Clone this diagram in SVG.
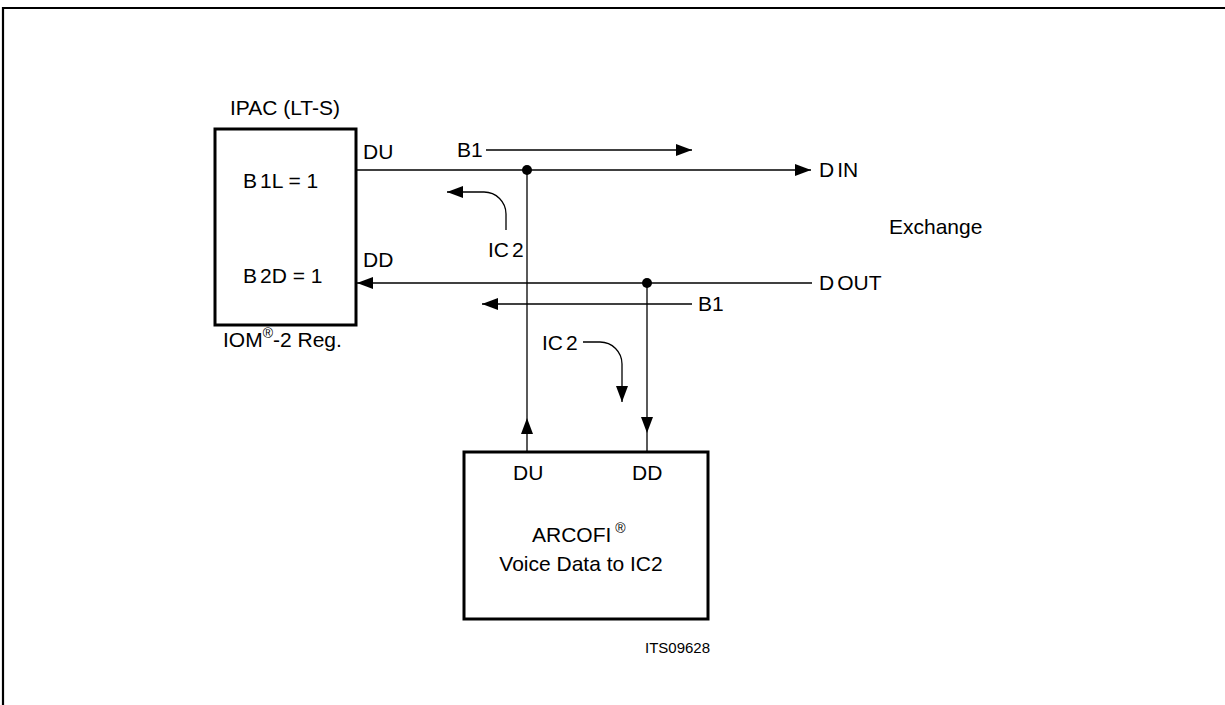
<svg xmlns="http://www.w3.org/2000/svg" width="1225" height="705" viewBox="0 0 1225 705">
<style>
text{font-family:"Liberation Sans",Arial,sans-serif;font-size:21px;fill:#000}
.box{fill:#fff;stroke:#000;stroke-width:3}
.ln{fill:none;stroke:#000;stroke-width:1.3}
.arr{marker-end:url(#ah)}
.sm{font-size:15px}
.sup{font-size:14px}
</style>
<defs>
<marker id="ah" markerUnits="userSpaceOnUse" markerWidth="16" markerHeight="12" refX="16" refY="6" orient="auto" viewBox="0 0 16 12">
<path d="M0,0 L16,6 L0,12 z" fill="#000"/>
</marker>
</defs>
<rect width="1225" height="705" fill="#fff"/>
<path d="M3,705 V8 H1225" fill="none" stroke="#000" stroke-width="2.2"/>

<g id="connectors">
<path class="ln arr" d="M356,170 H811"/>
<path class="ln arr" d="M812,283 H357"/>
<path class="ln arr" d="M486,150 H692"/>
<path class="ln arr" d="M692,304 H482"/>
<path class="ln" d="M527,170 V418"/>
<path class="ln arr" d="M527,452 V418"/>
<path class="ln arr" d="M647,283 V433"/>
<path class="ln" d="M647,433 V452"/>
<path class="ln arr" d="M506,230 V214 A22,22 0 0 0 484,192 H447"/>
<path class="ln arr" d="M583,342 H600 A22,22 0 0 1 622,364 V402"/>
<circle cx="527" cy="170" r="5"/>
<circle cx="647" cy="283" r="5"/>
<text x="457" y="157">B1</text>
<text x="698" y="311">B1</text>
<text x="488" y="257">IC<tspan dx="3">2</tspan></text>
<text x="542" y="350">IC<tspan dx="3">2</tspan></text>
<text x="819" y="177">D<tspan dx="3">IN</tspan></text>
<text x="819" y="290">D<tspan dx="3">OUT</tspan></text>
</g>

<g id="ipac">
<rect class="box" x="215" y="129" width="141" height="196"/>
<text x="285" y="115" text-anchor="middle">IPAC (LT-S)</text>
<text x="243" y="188">B<tspan dx="3">1L = 1</tspan></text>
<text x="243" y="283">B<tspan dx="3">2D = 1</tspan></text>
<text x="363" y="159">DU</text>
<text x="363" y="267">DD</text>
<text x="223" y="347">IOM<tspan class="sup" dy="-9">®</tspan><tspan dy="9">-2 Reg.</tspan></text>
</g>

<g id="exchange">
<text x="889" y="234">Exchange</text>
</g>

<g id="arcofi">
<rect class="box" x="464" y="452" width="244" height="167"/>
<text x="513" y="480">DU</text>
<text x="632" y="480">DD</text>
<text x="532" y="542">ARCOFI<tspan class="sup" dx="4" dy="-9">®</tspan></text>
<text x="581" y="571" text-anchor="middle">Voice Data to IC2</text>
<text class="sm" x="645" y="653">ITS09628</text>
</g>
</svg>
